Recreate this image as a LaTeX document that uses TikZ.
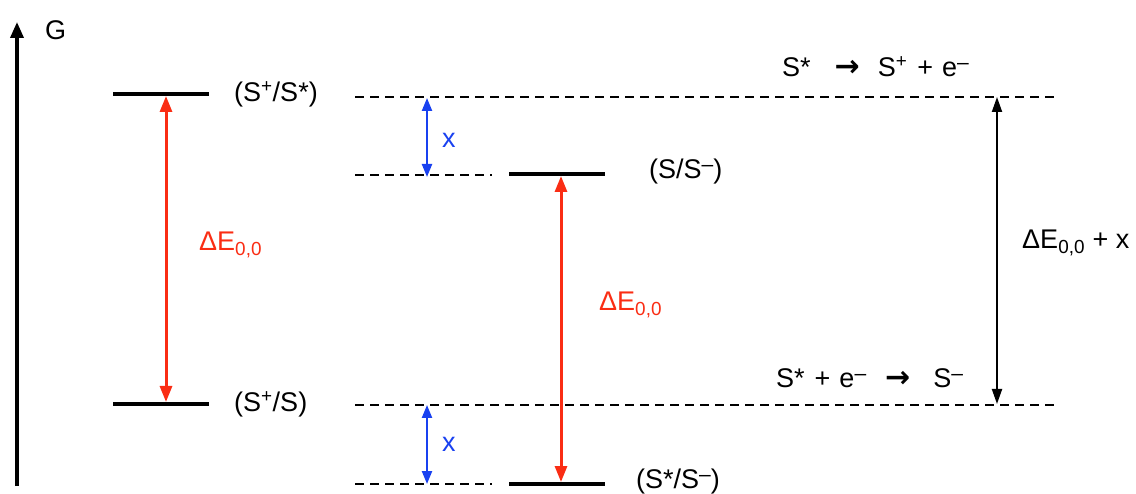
\documentclass[tikz,border=0pt]{standalone}
\usepackage{fontspec}
\setmainfont{Liberation Sans}
\newfontfamily\arrfont{DejaVu Sans}
\usetikzlibrary{arrows.meta}
\definecolor{myred}{RGB}{250,45,20}
\definecolor{myblue}{RGB}{25,65,240}
\newcommand{\supminus}{\raisebox{7pt}{\fontsize{21}{21}\selectfont –}}
\newcommand{\rarr}{{\arrfont\bfseries\fontsize{30}{30}\selectfont →}}
\begin{document}
\begin{tikzpicture}[x=1pt,y=-1pt,
  lvl/.style={line width=4pt},
  dashlvl/.style={line width=2.2pt,dash pattern=on 9pt off 6pt},
  lbl/.style={font=\fontsize{27}{30}\selectfont,inner sep=0pt,anchor=west},
  redarr/.style={myred,line width=3pt,{Triangle[width=12pt,length=16pt]}-{Triangle[width=12pt,length=16pt]}},
  bluearr/.style={myblue,line width=2.2pt,{Triangle[width=10pt,length=13pt]}-{Triangle[width=10pt,length=13pt]}},
  blkarr/.style={black,line width=2pt,{Triangle[width=10pt,length=15pt]}-{Triangle[width=10pt,length=15pt]}}]
\useasboundingbox (0,0) rectangle (1136,494);
% axis
\coordinate (ax0) at (17,486);
\coordinate (ax1) at (17,22);
\draw[line width=3.5pt,-{Triangle[width=13pt,length=16pt]}] (ax0) -- (ax1);
\node[lbl] (G) at (45,30) {G};
% left levels
\coordinate (l1a) at (113,94); \coordinate (l1b) at (209,94);
\coordinate (l2a) at (113,404); \coordinate (l2b) at (209,404);
\draw[lvl] (l1a) -- (l1b);
\draw[lvl] (l2a) -- (l2b);
\node[lbl] (t1) at (234,94) {(S\textsuperscript{+}/S*)};
\node[lbl] (t2) at (234,404) {(S\textsuperscript{+}/S)};
\coordinate (r1a) at (166,96); \coordinate (r1b) at (166,402);
\draw[redarr] (r1a) -- (r1b);
\node[lbl,myred] (d1) at (199,245) {ΔE\textsubscript{0,0}};
% dashed lines
\coordinate (da1) at (355,97); \coordinate (db1) at (1055,97);
\coordinate (da2) at (355,175); \coordinate (db2) at (492,175);
\coordinate (da3) at (355,405); \coordinate (db3) at (1055,405);
\coordinate (da4) at (355,484); \coordinate (db4) at (492,484);
\draw[dashlvl] (da1) -- (db1);
\draw[dashlvl] (da2) -- (db2);
\draw[dashlvl] (da3) -- (db3);
\draw[dashlvl] (da4) -- (db4);
% middle levels
\coordinate (m1a) at (509,174); \coordinate (m1b) at (605,174);
\coordinate (m2a) at (509,484); \coordinate (m2b) at (605,484);
\draw[lvl] (m1a) -- (m1b);
\draw[lvl] (m2a) -- (m2b);
\node[lbl] (t3) at (649,172) {(S/S\supminus)};
\node[lbl] (t4) at (636,482) {(S*/S\supminus)};
\coordinate (r2a) at (561,176); \coordinate (r2b) at (561,482);
\draw[redarr] (r2a) -- (r2b);
\node[lbl,myred] (d2) at (599,305) {ΔE\textsubscript{0,0}};
% blue arrows
\coordinate (b1a) at (427,98); \coordinate (b1b) at (427,177);
\coordinate (b2a) at (427,405); \coordinate (b2b) at (427,484);
\draw[bluearr] (b1a) -- (b1b);
\draw[bluearr] (b2a) -- (b2b);
\node[lbl,myblue] (x1) at (442,140) {x};
\node[lbl,myblue] (x2) at (442,444) {x};
% right arrow
\coordinate (k1) at (997,97); \coordinate (k2) at (997,404);
\draw[blkarr] (k1) -- (k2);
\node[lbl] (d3) at (1022,243) {ΔE\textsubscript{0,0} + x};
% reactions
\node[lbl] (re1) at (782,67) {S*\hspace{24pt}\rarr\hspace{18pt}S\textsuperscript{+}\hspace{10pt}+\hspace{9pt}e\supminus};
\node[lbl] (re2) at (776,378) {S*\hspace{10pt}+\hspace{9pt}e\supminus\hspace{19pt}\rarr\hspace{23pt}S\supminus};
\end{tikzpicture}
\end{document}
